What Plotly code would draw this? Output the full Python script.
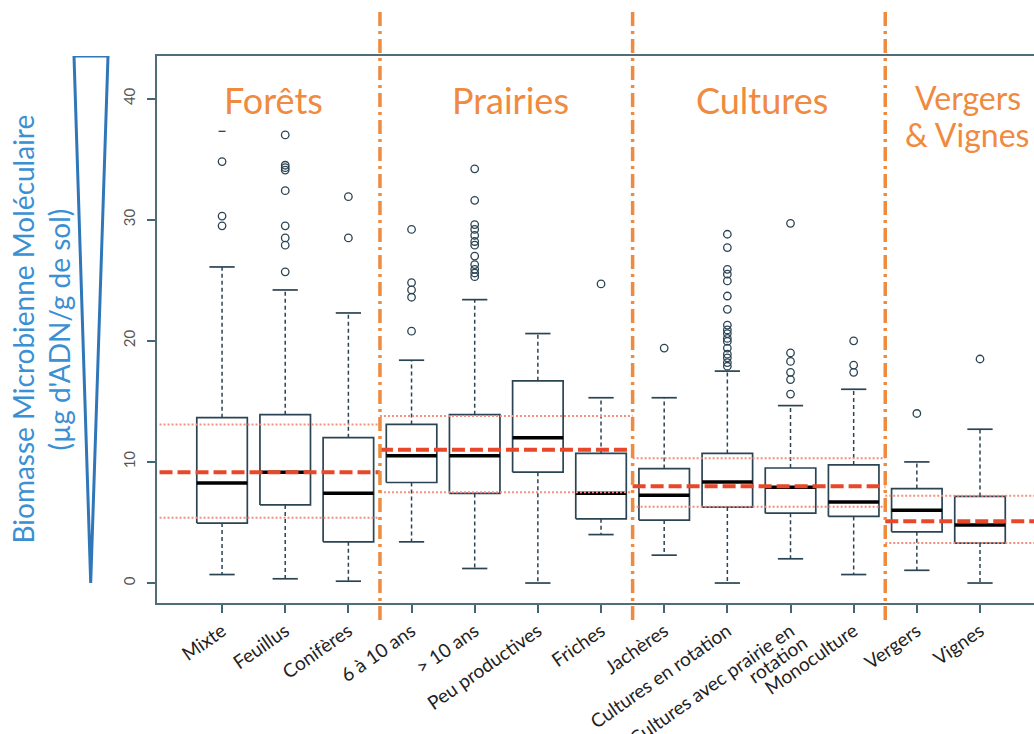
import plotly.graph_objects as go

# Land-use categories (x axis) and their box statistics (µg ADN / g sol)
categories = ["Mixte", "Feuillus", "Conifères", "6 à 10 ans", "> 10 ans",
              "Peu productives", "Friches", "Jachères", "Cultures en rotation",
              "Cultures avec prairie en", "Monoculture", "Vergers", "Vignes"]
label_second_line = {9: "rotation"}   # second line of the 10th label
q1 = [4.95, 6.45, 3.4, 8.3, 7.4, 9.15, 5.3, 5.2, 6.27, 5.77, 5.5, 4.23, 3.3]
median = [8.25, 9.15, 7.42, 10.5, 10.5, 12.0, 7.42, 7.25, 8.35, 7.9, 6.7, 6.0, 4.8]
q3 = [13.65, 13.9, 12.0, 13.1, 13.9, 16.7, 10.7, 9.45, 10.7, 9.5, 9.75, 7.8, 7.15]
whisker_low = [0.7, 0.35, 0.15, 3.4, 1.2, 0.0, 4.0, 2.3, 0.0, 2.0, 0.7, 1.05, 0.0]
whisker_high = [26.1, 24.2, 22.3, 18.4, 23.4, 20.6, 15.3, 15.3, 17.5, 14.65, 16.0, 10.0, 12.7]
outliers = [
    [29.5, 30.3, 34.8],
    [25.7, 27.9, 28.5, 29.5, 32.4, 34.1, 34.3, 34.5, 37.0],
    [28.5, 31.9],
    [20.8, 23.6, 24.2, 24.8, 29.2],
    [25.3, 25.6, 25.9, 26.3, 27.0, 27.9, 28.2, 28.7, 29.2, 29.6, 31.6, 34.2],
    [],
    [24.7],
    [19.4],
    [17.9, 18.2, 18.6, 18.9, 19.4, 19.95, 20.2, 20.6, 20.9, 21.3, 22.6, 23.7,
     24.95, 25.5, 25.9, 27.7, 28.8],
    [15.6, 16.8, 17.4, 18.3, 19.0, 29.7],
    [17.4, 18.0, 20.0],
    [14.0],
    [18.5],
]
mixte_tick_mark = [37.3]

# Land-use groups: number of categories, group median and quartiles
groups = ["Forêts", "Prairies", "Cultures", "Vergers", "& Vignes"]
group_sizes = [3, 4, 4, 2]
group_median = [9.15, 11.0, 8.0, 5.1]
group_q25 = [5.4, 7.5, 6.3, 3.3]
group_q75 = [13.1, 13.8, 10.3, 7.2]

y_ticks = [0, 10, 20, 30, 40]

BOX = "#2b4453"
SEP = "#ee8b3e"
RED = "#e9472a"
RED_Q = "#f29080"
TITLE = "#ef8a3f"
BLUE = "#3b8fd3"
TRI = "#2f77b8"
FONT = "Lato"

X_MIN, X_MAX = -0.03, 13.855
Y_MIN, Y_MAX = -1.65, 43.52
BW = 0.4   # half box width
CW = 0.2   # half cap width
ML, MT, MB, W, H = 157, 56, 131, 1034, 734

fig = go.Figure()
pos = list(range(1, len(categories) + 1))

# boxes
bx, by = [], []
for p, a, b in zip(pos, q1, q3):
    bx += [p - BW, p + BW, p + BW, p - BW, p - BW, None]
    by += [a, a, b, b, a, None]
fig.add_trace(go.Scatter(x=bx, y=by, mode="lines", line=dict(color=BOX, width=1.7),
                         hoverinfo="skip", showlegend=False))

# dashed whiskers
wx, wy = [], []
for p, a, b, lo, hi in zip(pos, q1, q3, whisker_low, whisker_high):
    wx += [p, p, None, p, p, None]
    wy += [b, hi, None, a, lo, None]
fig.add_trace(go.Scatter(x=wx, y=wy, mode="lines",
                         line=dict(color=BOX, width=1.5, dash="4px,3px"),
                         hoverinfo="skip", showlegend=False))

# caps
cx, cy = [], []
for p, lo, hi in zip(pos, whisker_low, whisker_high):
    cx += [p - CW, p + CW, None, p - CW, p + CW, None]
    cy += [hi, hi, None, lo, lo, None]
fig.add_trace(go.Scatter(x=cx, y=cy, mode="lines", line=dict(color=BOX, width=1.7),
                         hoverinfo="skip", showlegend=False))

# medians
mx, my = [], []
for p, m in zip(pos, median):
    mx += [p - BW, p + BW, None]
    my += [m, m, None]
fig.add_trace(go.Scatter(x=mx, y=my, mode="lines", line=dict(color="black", width=3.5),
                         hoverinfo="skip", showlegend=False))

# outliers
ox, oy = [], []
for p, vals in zip(pos, outliers):
    ox += [p] * len(vals)
    oy += vals
fig.add_trace(go.Scatter(x=ox, y=oy, mode="markers",
                         marker=dict(symbol="circle-open", size=7.5, color=BOX,
                                     line=dict(width=1.3, color=BOX)),
                         hoverinfo="skip", showlegend=False))
fig.add_trace(go.Scatter(x=[pos[0]] * len(mixte_tick_mark), y=mixte_tick_mark, mode="markers",
                         marker=dict(symbol="line-ew-open", size=5, color=BOX,
                                     line=dict(width=1.3, color=BOX)),
                         hoverinfo="skip", showlegend=False))

# group reference lines and separators
bounds = [0.5]
for n in group_sizes:
    bounds.append(bounds[-1] + n)
starts = [X_MIN + 0.04] + bounds[1:-1]
ends = bounds[1:-1] + [X_MAX]
for s, e, gm, g25, g75 in zip(starts, ends, group_median, group_q25, group_q75):
    for val in (g25, g75):
        fig.add_trace(go.Scatter(x=[s, e], y=[val, val], mode="lines",
                                 line=dict(color=RED_Q, width=2, dash="2px,2px"),
                                 hoverinfo="skip", showlegend=False))
    fig.add_trace(go.Scatter(x=[s, e], y=[gm, gm], mode="lines",
                             line=dict(color=RED, width=4, dash="13px,5px"),
                             hoverinfo="skip", showlegend=False))

for b in bounds[1:-1]:
    fig.add_shape(type="line", xref="x", yref="paper", x0=b, x1=b, y0=-0.031, y1=1.083,
                  line=dict(color=SEP, width=3.5, dash="14px,5px,3px,5px"))

# group titles
title_pos = [(1.82, 39.9), (5.56, 39.9), (9.55, 39.9), (12.81, 40.1), (12.79, 37.0)]
title_size = [36, 36, 36, 32, 32]
for txt, (tx, ty), fs in zip(groups, title_pos, title_size):
    fig.add_annotation(x=tx, y=ty, xref="x", yref="y", text=txt, showarrow=False,
                       xanchor="center", yanchor="middle",
                       font=dict(family=FONT, size=fs, color=TITLE))


def px_to_paper_x(px):
    return (px - ML) / (W - ML)


def px_to_paper_y(py):
    return (H - MB - py) / (H - MB - MT)


# second line of the two-line category label, tucked below its first line
for idx, txt in label_second_line.items():
    tick_px = ML + (pos[idx] - X_MIN) / (X_MAX - X_MIN) * (W - ML)
    fig.add_annotation(x=px_to_paper_x(tick_px - 14), y=px_to_paper_y(659),
                       xref="paper", yref="paper", text=txt, showarrow=False,
                       textangle=-35, xanchor="center", yanchor="middle",
                       font=dict(family=FONT, size=19, color="#222222"))

# wedge beside the y axis
fig.add_shape(type="path", xref="paper", yref="y",
              path=f"M {px_to_paper_x(74)} {Y_MAX} L {px_to_paper_x(108)} {Y_MAX} "
                   f"L {px_to_paper_x(90.7)} 0 Z",
              line=dict(color=TRI, width=3), fillcolor="rgba(0,0,0,0)")

# y axis title (two lines)
fig.add_annotation(x=px_to_paper_x(22), y=0.5, xref="paper", yref="paper",
                   xanchor="center", yanchor="middle",
                   text="Biomasse Microbienne Moléculaire", textangle=-90, showarrow=False,
                   font=dict(family=FONT, size=28, color=BLUE))
fig.add_annotation(x=px_to_paper_x(58), y=0.5, xref="paper", yref="paper",
                   xanchor="center", yanchor="middle",
                   text="(µg d'ADN/g de sol)", textangle=-90, showarrow=False,
                   font=dict(family=FONT, size=28, color=BLUE))

fig.update_layout(
    width=W, height=H,
    margin=dict(l=ML, r=0, t=MT, b=MB),
    paper_bgcolor="white", plot_bgcolor="white",
    xaxis=dict(range=[X_MIN, X_MAX], tickvals=pos, ticktext=categories, tickangle=-35,
               automargin=False,
               showgrid=False, zeroline=False, showline=True, mirror=True,
               linecolor="#4f6d7a", linewidth=1.5, ticks="outside", ticklen=8,
               tickcolor="#3f6776", tickwidth=1.5,
               tickfont=dict(family=FONT, size=19, color="#222222")),
    yaxis=dict(range=[Y_MIN, Y_MAX], tickvals=y_ticks, tickangle=-90,
               automargin=False, ticklabelstandoff=6,
               showgrid=False, zeroline=False, showline=True, mirror=False,
               linecolor="#4f6d7a", linewidth=1.5, ticks="outside", ticklen=8,
               tickcolor="#3f6776", tickwidth=1.5,
               tickfont=dict(family=FONT, size=15, color="#555555")),
)

fig.write_html("out.html")
